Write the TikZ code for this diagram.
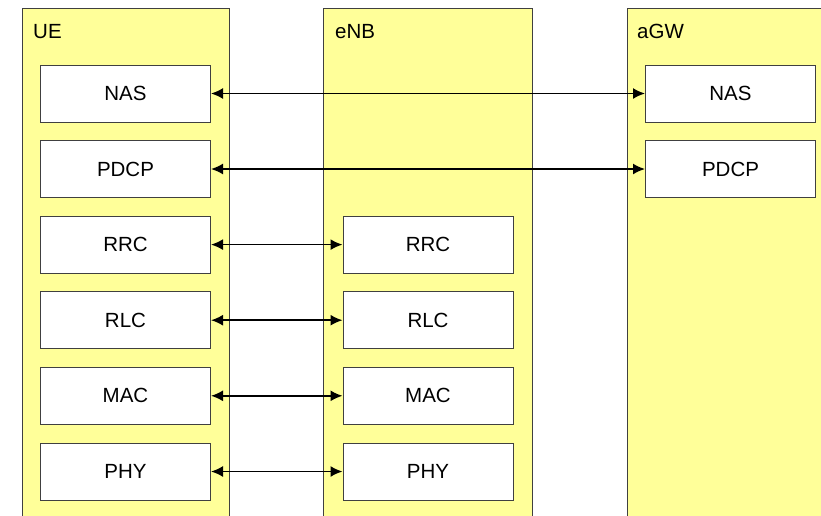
\documentclass[tikz,border=0pt]{standalone}
\usepackage{fontspec}
\setmainfont{Liberation Sans}
\usetikzlibrary{arrows.meta}
\definecolor{colfill}{RGB}{255,255,153}
\definecolor{edgegray}{RGB}{64,64,64}
\tikzset{
    column/.style={draw=edgegray, line width=1pt, fill=colfill},
    layer/.style={draw=edgegray, line width=1pt, fill=white, minimum width=170pt, minimum height=57pt, inner sep=0pt, font=\fontsize{20.5}{24}\selectfont},
    title/.style={anchor=base west, inner sep=0pt, font=\fontsize{20.5}{24}\selectfont},
    peer/.style={{Latex[length=12pt,width=11pt]}-{Latex[length=12pt,width=11pt]}, line width=1.7pt}
}
\begin{document}
\begin{tikzpicture}[x=1pt,y=-1pt]
        \clip (0,0) rectangle (821,515);
        % entities
        \draw [column] (22,8) rectangle (229,530);
        \draw [column] (323,8) rectangle (532,530);
        \draw [column] (627,8) rectangle (835,530);
        \node [title] (ue) at (33,38) {UE};
        \node [title] (enb) at (335,38) {eNB};
        \node [title] (agw) at (637,38) {aGW};
        % UE stack
        \node [layer] (ue-nas) at (125.5,93.5) {NAS};
        \node [layer] (ue-pdcp) at (125.5,169) {PDCP};
        \node [layer] (ue-rrc) at (125.5,244.6) {RRC};
        \node [layer] (ue-rlc) at (125.5,320.2) {RLC};
        \node [layer] (ue-mac) at (125.5,395.8) {MAC};
        \node [layer] (ue-phy) at (125.5,471.5) {PHY};
        % eNB stack
        \node [layer] (enb-rrc) at (428,244.6) {RRC};
        \node [layer] (enb-rlc) at (428,320.2) {RLC};
        \node [layer] (enb-mac) at (428,395.8) {MAC};
        \node [layer] (enb-phy) at (428,471.5) {PHY};
        % aGW stack
        \node [layer] (agw-nas) at (730.5,93.5) {NAS};
        \node [layer] (agw-pdcp) at (730.5,169) {PDCP};
        % peer links
        \draw [peer] (ue-nas) -- (agw-nas);
        \draw [peer] (ue-pdcp) -- (agw-pdcp);
        \draw [peer] (ue-rrc) -- (enb-rrc);
        \draw [peer] (ue-rlc) -- (enb-rlc);
        \draw [peer] (ue-mac) -- (enb-mac);
        \draw [peer] (ue-phy) -- (enb-phy);
\end{tikzpicture}
\end{document}
